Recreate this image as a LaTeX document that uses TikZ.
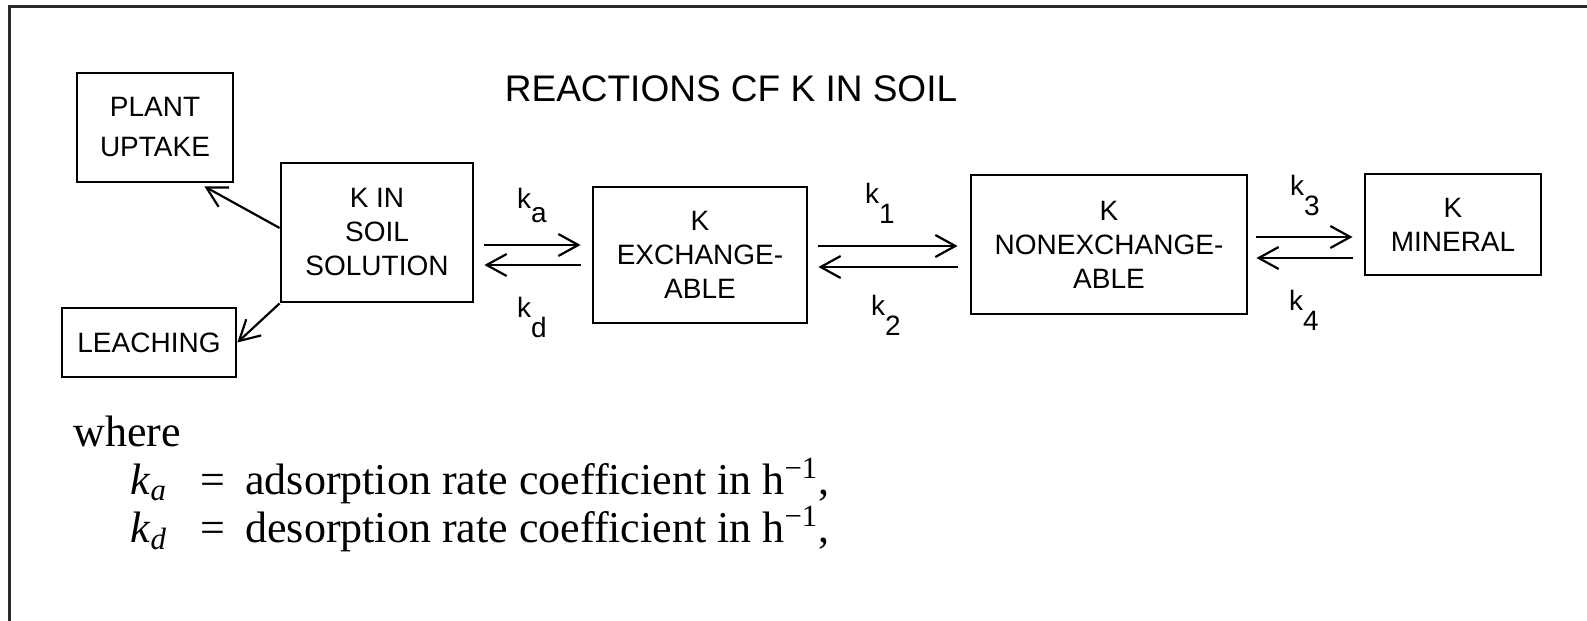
\documentclass[tikz,border=0pt]{standalone}
\usepackage{fontspec}
\setmainfont{Liberation Serif}
\newfontfamily\letterFont{Liberation Sans}
\usetikzlibrary{arrows.meta,calc}

\newcommand{\rateK}[2]{k\raisebox{-#2}{#1}}

\begin{document}
\begin{tikzpicture}[x=0.5pt, y=-0.5pt,
    pool/.style={draw, line width=1.4pt, inner sep=0pt, align=center,
        font=\letterFont\fontsize{14}{17}\selectfont},
    flow/.style={line width=1.1pt, -{Straight Barb[length=10pt,width=11pt,line width=1.1pt]}},
    rate/.style={anchor=base, inner sep=0pt, font=\letterFont\fontsize{14}{17}\selectfont},
    legend/.style={anchor=base west, inner sep=0pt, font=\fontsize{22}{26}\selectfont}]

    \definecolor{frameColour}{HTML}{2A2A2A}

    \useasboundingbox (0,0) rectangle (1587,621);

    % Frame
    \draw[frameColour, line width=1.75pt] (1587,6.5) -- (9.7,6.5) -- (9.7,621);

    % Title
    \node[font=\letterFont\fontsize{18.5}{22}\selectfont] (title) at (731,89) {REACTIONS CF K IN SOIL};

    % Pools
    \node[pool, minimum width=78pt, minimum height=54.5pt] (plant) at (155,127.5) {PLANT\\[3pt]UPTAKE};
    \node[pool, minimum width=96pt, minimum height=69.5pt] (soil) at (377,232.5) {K IN\\SOIL\\SOLUTION};
    \node[pool, minimum width=87pt, minimum height=34.5pt] (leach) at (149,342.5) {LEACHING};
    \node[pool, minimum width=107pt, minimum height=68pt] (exch) at (700,255) {K\\EXCHANGE-\\ABLE};
    \node[pool, minimum width=138pt, minimum height=69.5pt] (nonex) at (1109,244.5) {K\\NONEXCHANGE-\\ABLE};
    \node[pool, minimum width=88pt, minimum height=50.5pt] (mineral) at (1453,224.5) {K\\MINERAL};

    % Losses from the soil solution
    \draw[flow] ($(soil.west)+(0,-4.5)$) -- ($(plant.south east)+(-30,3)$);
    \draw[flow] (soil.south west) -- (leach.east);

    % Exchange between the pools
    \draw[flow] ($(soil.east |- exch.center)+(10,-10)$) -- ($(exch.west)+(-11,-10)$);
    \draw[flow] ($(exch.west)+(-11,10)$) -- ($(soil.east |- exch.center)+(10,10)$);
    \draw[flow] ($(exch.east)+(10,-9)$) -- ($(nonex.west |- exch.center)+(-12,-9)$);
    \draw[flow] ($(nonex.west |- exch.center)+(-12,12)$) -- ($(exch.east)+(10,12)$);
    \draw[flow] ($(nonex.east)+(8,-7.5)$) -- ($(mineral.west |- nonex.center)+(-11,-7.5)$);
    \draw[flow] ($(mineral.west |- nonex.center)+(-11,13.5)$) -- ($(nonex.east)+(8,13.5)$);

    % Rate coefficients
    \node[rate] (ka) at (532,208) {\rateK{a}{7pt}};
    \node[rate] (kd) at (532,317) {\rateK{d}{10pt}};
    \node[rate] (k1) at (880,203) {\rateK{1}{10pt}};
    \node[rate] (k2) at (886,315) {\rateK{2}{10pt}};
    \node[rate] (k3) at (1305,195) {\rateK{3}{10pt}};
    \node[rate] (k4) at (1304,310) {\rateK{4}{10pt}};

    % Legend
    \node[legend] (where) at (73,446) {where};
    \node[legend] (defa) at (130,494) {\makebox[35pt][l]{\textit{k}\textsubscript{\textit{a}}}\makebox[22.5pt][l]{=}adsorption rate coefficient in h\textsuperscript{−1},};
    \node[legend] (defd) at (130,542) {\makebox[35pt][l]{\textit{k}\textsubscript{\textit{d}}}\makebox[22.5pt][l]{=}desorption rate coefficient in h\textsuperscript{−1},};

\end{tikzpicture}
\end{document}
